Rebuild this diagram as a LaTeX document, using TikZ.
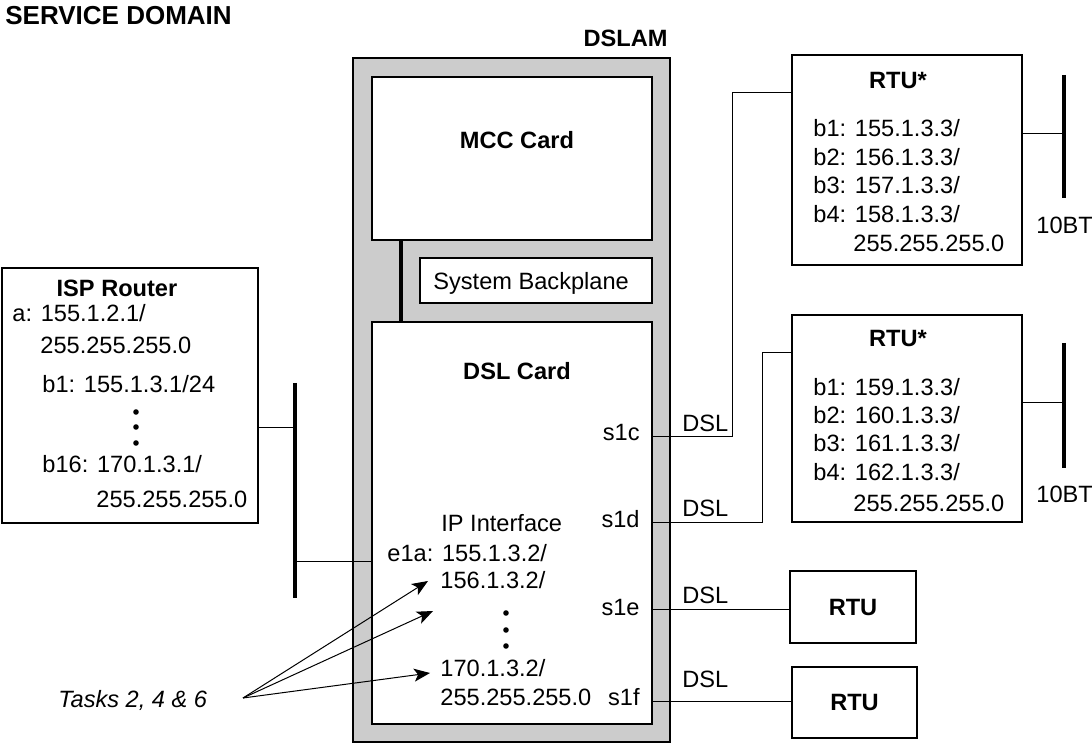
\documentclass[tikz,border=0pt]{standalone}
\usepackage{fontspec}
\setmainfont{Liberation Sans}
\usetikzlibrary{fit,arrows.meta}
\definecolor{framegray}{HTML}{CCCCCC}
\begin{document}
\begin{tikzpicture}[x=0.5pt,y=-0.5pt,
  box/.style={draw,line width=1pt,fill=white,inner sep=0pt},
  lbl/.style={inner sep=0pt,font=\fontsize{11.8}{14}\selectfont},
  blbl/.style={inner sep=0pt,font=\fontsize{11.8}{14}\selectfont\bfseries},
  wire/.style={line width=0.5pt},
  bar/.style={line width=2.2pt},
  dotm/.style={circle,fill,inner sep=0pt,minimum size=2.8pt},
  task/.style={-{Stealth[length=8pt,width=6.5pt,inset=2pt]},line width=0.5pt}]
\useasboundingbox (0,0) rectangle (1092,747);

% titles
\node[inner sep=0pt,anchor=base west,font=\fontsize{13}{15}\selectfont\bfseries] (sd) at (5,25) {SERVICE DOMAIN};
\node[blbl,anchor=base east] (dslamlbl) at (668,47) {DSLAM};

% DSLAM
\node[box,fill=framegray,fit={(353,58)(670,742)}] (dslam) {};
\node[box,fit={(372,77)(652,240)}] (mcc) {};
\node[box,fit={(420,258)(652,303)}] (bp) {};
\node[box,fit={(372,322)(652,724)}] (dsl) {};
\coordinate (bpx) at (401,0);
\draw[line width=2pt] (mcc.south -| bpx) -- (dsl.north -| bpx);

\node[blbl,anchor=base] (mcclbl) at (517,149) {MCC Card};
\node[lbl,anchor=base west] (bplbl) at (433,290) {System Backplane};
\node[blbl,anchor=base] (dsllbl) at (517,380) {DSL Card};
\node[lbl,anchor=base east] (s1c) at (640,441) {s1c};
\node[lbl,anchor=base east] (s1d) at (640,528) {s1d};
\node[lbl,anchor=base east] (s1e) at (640,616) {s1e};
\node[lbl,anchor=base east] (s1f) at (640,705) {s1f};
\node[lbl,anchor=base west] (ipif) at (441,532) {IP Interface};
\node[lbl,anchor=base west] (e1a) at (387,562) {e1a: 155.1.3.2/};
\node[lbl,anchor=base west] (ip2) at (440,589) {156.1.3.2/};
\node[dotm] (dd1) at (506,613) {};
\node[dotm] (dd2) at (506,630) {};
\node[dotm] (dd3) at (506,646) {};
\node[lbl,anchor=base west] (ip16) at (440,677) {170.1.3.2/};
\node[lbl,anchor=base west] (ipmask) at (440,705) {255.255.255.0};

% ISP router
\node[box,fit={(2,268)(258,523)}] (isp) {};
\node[blbl,anchor=base] (isplbl) at (117,297) {ISP Router};
\node[lbl,anchor=base west] (ispa) at (12,322) {a: 155.1.2.1/};
\node[lbl,anchor=base west] (ispam) at (40,354) {255.255.255.0};
\node[lbl,anchor=base west] (ispb1) at (42,393) {b1: 155.1.3.1/24};
\node[dotm] (id1) at (136,412) {};
\node[dotm] (id2) at (136,427) {};
\node[dotm] (id3) at (136,443) {};
\node[lbl,anchor=base west] (ispb16) at (42,473) {b16: 170.1.3.1/};
\node[lbl,anchor=base west] (ispbm) at (96,508) {255.255.255.0};

% left bus
\coordinate (busT) at (295,383);
\coordinate (busB) at (295,598);
\coordinate (busA) at (295,428);
\coordinate (busC) at (295,562);
\draw[bar] (busT) -- (busB);
\draw[wire] (isp.east |- busA) -- (busA);
\draw[wire] (busC) -- (dsl.west |- busC);

% RTU* 1
\node[box,fit={(792,55)(1022,265)}] (rtuA) {};
\node[blbl,anchor=base] (rtuAl) at (898,89) {RTU*};
\node[lbl,anchor=base west] (rA1) at (813,137) {b1: 155.1.3.3/};
\node[lbl,anchor=base west] (rA2) at (813,166) {b2: 156.1.3.3/};
\node[lbl,anchor=base west] (rA3) at (813,194) {b3: 157.1.3.3/};
\node[lbl,anchor=base west] (rA4) at (813,223) {b4: 158.1.3.3/};
\node[lbl,anchor=base west] (rAm) at (853,252) {255.255.255.0};
\coordinate (barAT) at (1064,75);
\coordinate (barAB) at (1064,198);
\coordinate (barAc) at (1064,134);
\draw[bar] (barAT) -- (barAB);
\draw[wire] (rtuA.east |- barAc) -- (barAc);
\node[lbl,anchor=base west] (tenA) at (1036,234) {10BT};

% RTU* 2
\node[box,fit={(792,315)(1022,522)}] (rtuB) {};
\node[blbl,anchor=base] (rtuBl) at (898,347) {RTU*};
\node[lbl,anchor=base west] (rB1) at (813,396) {b1: 159.1.3.3/};
\node[lbl,anchor=base west] (rB2) at (813,424) {b2: 160.1.3.3/};
\node[lbl,anchor=base west] (rB3) at (813,452) {b3: 161.1.3.3/};
\node[lbl,anchor=base west] (rB4) at (813,481) {b4: 162.1.3.3/};
\node[lbl,anchor=base west] (rBm) at (853,512) {255.255.255.0};
\coordinate (barBT) at (1064,343);
\coordinate (barBB) at (1064,468);
\coordinate (barBc) at (1064,403);
\draw[bar] (barBT) -- (barBB);
\draw[wire] (rtuB.east |- barBc) -- (barBc);
\node[lbl,anchor=base west] (tenB) at (1036,503) {10BT};

% plain RTUs
\node[box,fit={(790,571)(916,643)}] (rtuC) {};
\node[blbl] (rtuCl) at (rtuC.center) {RTU};
\node[box,fit={(792,667)(917,738)}] (rtuD) {};
\node[blbl] (rtuDl) at (rtuD.center) {RTU};

% DSL links
\coordinate (pc) at (652,437);
\coordinate (pd) at (652,523);
\coordinate (pe) at (652,610);
\coordinate (pf) at (652,702);
\coordinate (kc1) at (732,437);
\coordinate (kc2) at (732,93);
\coordinate (kd1) at (762,523);
\coordinate (kd2) at (762,353);
\draw[wire] (pc) -- (kc1) -- (kc2) -- (rtuA.west |- kc2);
\draw[wire] (pd) -- (kd1) -- (kd2) -- (rtuB.west |- kd2);
\draw[wire] (pe) -- (rtuC.west |- pe);
\draw[wire] (pf) -- (rtuD.west |- pf);
\node[lbl,anchor=base west] (dslc) at (682,432) {DSL};
\node[lbl,anchor=base west] (dsld) at (682,517) {DSL};
\node[lbl,anchor=base west] (dsle) at (682,604) {DSL};
\node[lbl,anchor=base west] (dslf) at (682,688) {DSL};

% tasks
\node[lbl,anchor=base west,font=\fontsize{11.8}{14}\selectfont\itshape] (tasks) at (58,708) {Tasks 2, 4 \& 6};
\coordinate (torg) at (243,698);
\coordinate (ta1) at (428,581);
\coordinate (ta2) at (433,611);
\coordinate (ta3) at (430,673);
\draw[task] (torg) -- (ta1);
\draw[task] (torg) -- (ta2);
\draw[task] (torg) -- (ta3);
\end{tikzpicture}
\end{document}
